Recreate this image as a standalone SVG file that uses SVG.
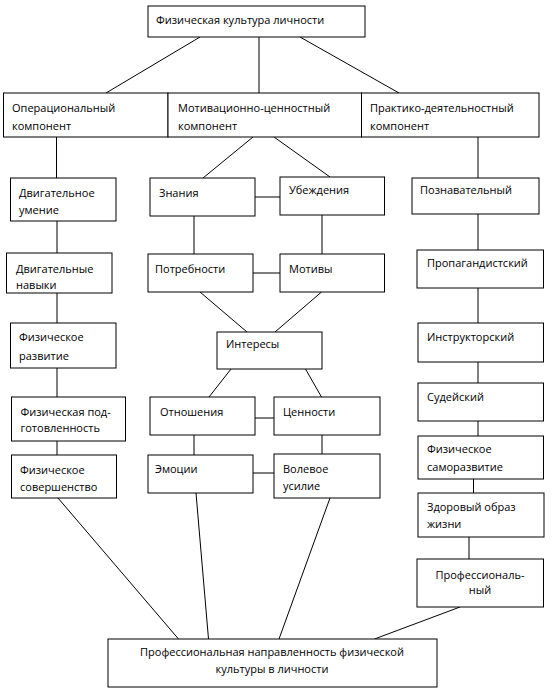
<svg xmlns="http://www.w3.org/2000/svg" width="552" height="690" viewBox="0 0 552 690">
<style>
rect{fill:#fff;stroke:#000;stroke-width:1}
line{stroke:#000;stroke-width:1}
text{font-family:"Open Sans","Liberation Sans",sans-serif;font-size:11px;fill:#000}
.c{text-anchor:middle}
</style>
<rect x="0" y="0" width="552" height="690" style="stroke:none"/>
<g id="connectors">
<line x1="200" y1="37" x2="106" y2="93"/>
<line x1="259" y1="37" x2="259" y2="93"/>
<line x1="300" y1="37" x2="399" y2="93"/>
<line x1="56.5" y1="137" x2="56.5" y2="178"/>
<line x1="253" y1="137" x2="203" y2="178"/>
<line x1="274" y1="137" x2="330" y2="177"/>
<line x1="478" y1="137" x2="478" y2="178"/>
<line x1="255" y1="197" x2="280" y2="197"/>
<line x1="57" y1="221" x2="57" y2="253"/>
<line x1="194" y1="216" x2="194" y2="254"/>
<line x1="322" y1="215" x2="322" y2="254"/>
<line x1="253" y1="273" x2="280" y2="273"/>
<line x1="478" y1="214" x2="478" y2="250"/>
<line x1="200" y1="292" x2="247" y2="332"/>
<line x1="321.5" y1="292" x2="275" y2="332"/>
<line x1="57" y1="293" x2="57" y2="323"/>
<line x1="478" y1="288" x2="478" y2="323"/>
<line x1="57" y1="368" x2="57" y2="397"/>
<line x1="57" y1="441" x2="57" y2="455"/>
<line x1="231" y1="369" x2="209" y2="397"/>
<line x1="305.5" y1="369" x2="321.5" y2="397"/>
<line x1="255" y1="418" x2="274" y2="418"/>
<line x1="194" y1="435" x2="194" y2="455"/>
<line x1="322" y1="435" x2="322" y2="454"/>
<line x1="253" y1="473" x2="274" y2="473"/>
<line x1="478" y1="362" x2="478" y2="383"/>
<line x1="478" y1="421" x2="478" y2="436"/>
<line x1="473.5" y1="479" x2="473.5" y2="493"/>
<line x1="469" y1="537" x2="469" y2="559"/>
<line x1="58" y1="498" x2="178.5" y2="639"/>
<line x1="196" y1="493" x2="208.5" y2="639"/>
<line x1="330" y1="498" x2="279" y2="639"/>
<line x1="460" y1="607" x2="374.5" y2="639"/>
</g>
<g id="n-top"><rect x="148" y="6" width="217" height="31"/><text x="156" y="24">Физическая культура личности</text></g>
<g id="n-oper"><rect x="3.5" y="93" width="164.5" height="44"/><text x="12" y="112">Операциональный</text><text x="12" y="130">компонент</text></g>
<g id="n-motiv"><rect x="168" y="93" width="193.5" height="44"/><text x="178" y="112">Мотивационно-ценностный</text><text x="178" y="130">компонент</text></g>
<g id="n-prakt"><rect x="361.5" y="93" width="177.5" height="44"/><text x="370" y="112">Практико-деятельностный</text><text x="370" y="130">компонент</text></g>
<g id="n-umenie"><rect x="10.5" y="178" width="105.5" height="43"/><text x="19" y="197">Двигательное</text><text x="19" y="214">умение</text></g>
<g id="n-znaniya"><rect x="150" y="178" width="105" height="38"/><text x="159" y="197">Знания</text></g>
<g id="n-ubezhd"><rect x="280" y="177" width="104.5" height="38"/><text x="289" y="194">Убеждения</text></g>
<g id="n-poznav"><rect x="412" y="178" width="127" height="36"/><text x="420" y="194">Познавательный</text></g>
<g id="n-navyki"><rect x="6.5" y="253" width="105.5" height="40"/><text x="16" y="273">Двигательные</text><text x="16" y="289">навыки</text></g>
<g id="n-potreb"><rect x="148" y="254" width="105" height="38"/><text x="155" y="273">Потребности</text></g>
<g id="n-motivy"><rect x="280" y="254" width="104.5" height="38"/><text x="289" y="273">Мотивы</text></g>
<g id="n-propag"><rect x="417" y="250" width="126.5" height="38"/><text x="427" y="267">Пропагандистский</text></g>
<g id="n-razvitie"><rect x="10.5" y="323" width="105.5" height="45"/><text x="19" y="341">Физическое</text><text x="19" y="360">развитие</text></g>
<g id="n-interesy"><rect x="217" y="332" width="105" height="37"/><text x="226" y="348">Интересы</text></g>
<g id="n-instr"><rect x="418" y="323" width="125.5" height="39"/><text x="427" y="341">Инструкторский</text></g>
<g id="n-podgot"><rect x="11.5" y="397" width="114" height="44"/><text x="20.5" y="416">Физическая под-</text><text x="20.5" y="432">готовленность</text></g>
<g id="n-otnosh"><rect x="150" y="397" width="105" height="38"/><text x="160" y="416">Отношения</text></g>
<g id="n-tsennosti"><rect x="274" y="397" width="106" height="38"/><text x="283" y="416">Ценности</text></g>
<g id="n-sudey"><rect x="418" y="383" width="125.5" height="38"/><text x="427" y="401">Судейский</text></g>
<g id="n-soversh"><rect x="11.5" y="455" width="105" height="43"/><text x="20" y="474">Физическое</text><text x="20" y="491">совершенство</text></g>
<g id="n-emotsii"><rect x="148" y="455" width="105" height="38"/><text x="155" y="473">Эмоции</text></g>
<g id="n-volevoe"><rect x="274" y="454" width="106" height="44"/><text x="283" y="473">Волевое</text><text x="283" y="490">усилие</text></g>
<g id="n-samoraz"><rect x="418" y="436" width="125.5" height="43"/><text x="427" y="453">Физическое</text><text x="427" y="471">саморазвитие</text></g>
<g id="n-zozh"><rect x="418" y="493" width="126" height="44"/><text x="427" y="511">Здоровый образ</text><text x="427" y="528">жизни</text></g>
<g id="n-prof"><rect x="417" y="559" width="126.5" height="48"/><text class="c" x="480" y="579">Профессиональ-</text><text class="c" x="480" y="594">ный</text></g>
<g id="n-bottom"><rect x="108" y="639" width="329" height="48"/><text class="c" x="272" y="656">Профессиональная направленность физической</text><text class="c" x="272" y="673">культуры в личности</text></g>
</svg>
